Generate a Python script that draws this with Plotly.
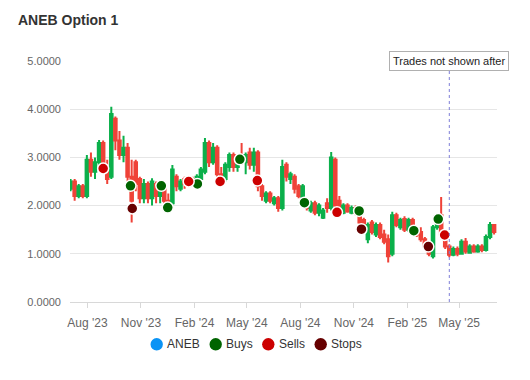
import pandas as pd
import plotly.graph_objects as go

# ---------------- data ----------------
week_start = "2023-07-03"
opens = [2.35, 2.50, 2.20, 2.40, 2.20, 2.95, 2.70, 2.90, 3.30, 2.80,
         2.60, 3.80, 3.35, 3.05, 3.20, 2.60, 2.90, 2.55, 2.15, 2.45,
         2.15, 2.45, 2.20, 2.35, 2.10, 2.05, 2.60, 2.35, 2.55, 2.45,
         2.55, 2.45, 2.55, 2.70, 3.30, 2.90, 3.20, 2.65, 2.55, 2.80,
         3.05, 2.80, 3.05, 2.90, 3.10, 2.85, 3.10, 2.40, 2.10, 2.25,
         2.05, 2.15, 1.95, 2.85, 2.55, 2.60, 2.40, 2.15, 2.10, 1.90,
         2.05, 1.85, 1.75, 2.05, 1.95, 2.95, 2.10, 1.85, 2.00, 1.85,
         1.95, 1.85, 1.70, 1.30, 1.65, 1.40, 1.60, 1.40, 1.30, 1.00,
         1.80, 1.55, 1.72, 1.50, 1.70, 1.50, 1.45, 1.30, 1.20, 0.95,
         1.55, 1.80, 1.45, 1.15, 0.98, 1.10, 1.00, 1.25, 1.02, 1.15,
         1.05, 1.15, 1.08, 1.35, 1.60]
highs = [2.55, 2.55, 2.45, 2.45, 3.05, 3.10, 3.00, 3.36, 3.35, 2.95,
         4.05, 3.85, 3.55, 3.45, 3.30, 2.95, 2.95, 2.60, 2.55, 2.50,
         2.57, 2.50, 2.45, 2.40, 2.25, 2.84, 2.65, 2.55, 2.60, 2.60,
         2.60, 2.65, 2.80, 3.40, 3.35, 3.30, 3.25, 2.80, 2.90, 3.10,
         3.10, 3.05, 3.30, 3.10, 3.20, 3.20, 3.15, 2.45, 2.30, 2.30,
         2.20, 2.20, 2.95, 2.90, 2.70, 2.65, 2.45, 2.45, 2.15, 2.10,
         2.10, 2.05, 1.95, 2.15, 3.11, 3.00, 2.20, 2.05, 2.05, 2.00,
         2.00, 1.95, 1.75, 1.65, 1.70, 1.65, 1.65, 1.50, 1.40, 1.87,
         1.85, 1.75, 1.78, 1.75, 1.75, 1.55, 1.55, 1.35, 1.25, 1.60,
         1.80, 2.18, 1.50, 1.20, 1.15, 1.15, 1.30, 1.33, 1.20, 1.20,
         1.20, 1.20, 1.40, 1.66, 1.62]
lows = [2.30, 2.10, 2.15, 2.15, 2.15, 2.60, 2.55, 2.80, 2.70, 2.45,
        2.55, 3.15, 2.95, 2.90, 2.50, 1.65, 2.30, 2.05, 2.05, 2.05,
        2.00, 2.05, 2.05, 2.00, 1.98, 2.00, 2.30, 2.30, 2.35, 2.40,
        2.40, 2.40, 2.50, 2.65, 2.80, 2.85, 2.55, 2.45, 2.50, 2.70,
        2.70, 2.70, 2.85, 2.65, 2.75, 2.70, 2.30, 2.10, 2.05, 2.05,
        2.00, 1.87, 1.90, 2.50, 2.45, 2.25, 2.15, 2.10, 1.90, 1.85,
        1.80, 1.78, 1.72, 1.85, 1.90, 1.90, 1.85, 1.82, 1.85, 1.82,
        1.80, 1.60, 1.50, 1.22, 1.40, 1.35, 1.30, 1.20, 0.82, 0.95,
        1.55, 1.50, 1.45, 1.45, 1.45, 1.35, 1.25, 1.12, 0.95, 0.90,
        1.50, 1.30, 1.10, 0.93, 0.95, 0.95, 0.98, 1.00, 1.00, 1.02,
        1.02, 1.03, 1.05, 1.30, 1.40]
closes = [2.50, 2.20, 2.40, 2.20, 2.95, 2.70, 2.90, 3.30, 2.80, 2.55,
          3.90, 3.35, 3.05, 3.20, 2.60, 2.10, 2.45, 2.15, 2.45, 2.15,
          2.50, 2.20, 2.35, 2.10, 2.05, 2.75, 2.40, 2.50, 2.45, 2.55,
          2.45, 2.60, 2.75, 3.30, 2.90, 3.20, 2.65, 2.55, 2.85, 3.05,
          2.80, 3.00, 2.95, 3.05, 2.85, 3.10, 2.40, 2.20, 2.25, 2.10,
          2.15, 1.95, 2.80, 2.60, 2.65, 2.35, 2.20, 2.40, 1.95, 2.05,
          1.85, 2.00, 1.90, 1.95, 3.00, 2.00, 1.90, 2.00, 1.88, 1.95,
          1.85, 1.65, 1.55, 1.60, 1.45, 1.60, 1.35, 1.25, 0.95, 1.80,
          1.60, 1.70, 1.50, 1.70, 1.50, 1.40, 1.30, 1.15, 1.00, 1.55,
          1.75, 1.40, 1.15, 0.98, 1.10, 1.00, 1.25, 1.05, 1.15, 1.05,
          1.15, 1.08, 1.35, 1.60, 1.45]

buy_dates = ["2023-10-14", "2023-12-06", "2023-12-17", "2024-02-06", "2024-04-19",
             "2024-08-08", "2024-11-10", "2025-02-12", "2025-03-26"]
buy_prices = [2.41, 2.41, 1.96, 2.45, 2.96, 2.06, 1.89, 1.48, 1.72]
sell_dates = ["2023-08-28", "2024-01-22", "2024-03-16", "2024-05-19", "2024-10-03", "2025-04-06"]
sell_prices = [2.77, 2.50, 2.50, 2.52, 1.86, 1.39]
stop_dates = ["2023-10-17", "2024-11-14", "2025-03-09"]
stop_prices = [1.94, 1.51, 1.15]

cutoff_date = "2025-04-14"
tick_dates = ["2023-08-01", "2023-11-01", "2024-02-01", "2024-05-01",
              "2024-08-01", "2024-11-01", "2025-02-01", "2025-05-01"]
tick_labels = ["Aug '23", "Nov '23", "Feb '24", "May '24",
               "Aug '24", "Nov '24", "Feb '25", "May '25"]
y_ticks = [0, 1, 2, 3, 4, 5]

legend_names = ["ANEB", "Buys", "Sells", "Stops"]
legend_colors = ["#0a93f5", "#006400", "#cc0000", "#660000"]

# ---------------- figure ----------------
dates = pd.date_range(week_start, periods=len(closes), freq="7D")
UP, DOWN = "#0bb04b", "#ef4238"
FONT = "Liberation Sans, Arial, sans-serif"

fig = go.Figure()
fig.add_trace(go.Candlestick(
    x=dates, open=opens, high=highs, low=lows, close=closes, name="ANEB",
    increasing=dict(line=dict(color=UP, width=2), fillcolor=UP),
    decreasing=dict(line=dict(color=DOWN, width=2), fillcolor=DOWN),
    whiskerwidth=0, showlegend=False, hoverinfo="x+y"))

for nm, xs, ys, col in [("Buys", buy_dates, buy_prices, legend_colors[1]),
                        ("Sells", sell_dates, sell_prices, legend_colors[2]),
                        ("Stops", stop_dates, stop_prices, legend_colors[3])]:
    fig.add_trace(go.Scatter(x=xs, y=ys, mode="markers", name=nm, showlegend=False,
                             marker=dict(color=col, size=11, line=dict(color="white", width=1.5))))

fig.add_shape(type="line", x0=cutoff_date, x1=cutoff_date, y0=0, y1=4.81,
              xref="x", yref="y", line=dict(color="#7f7fd8", width=1, dash="dot"))
fig.add_annotation(text="Trades not shown after", xref="paper", yref="paper",
                   x=(389 - 70) / 427, y=1.002, xanchor="left", yanchor="middle",
                   showarrow=False, font=dict(size=11, color="#222", family=FONT),
                   bgcolor="white", bordercolor="#b0b0b0", borderwidth=1, borderpad=3)

# manual legend
PW, PH = 427.0, 241.0
leg_cx = [156.7, 215.7, 268.3, 320.7]
leg_tx = [165.0, 224.0, 276.5, 329.0]
leg_y = 344.3
for name, col, cx, tx in zip(legend_names, legend_colors, leg_cx, leg_tx):
    fx = (cx - 70) / PW
    fy = (302 - leg_y) / PH
    rx, ry = 6.2 / PW, 6.2 / PH
    fig.add_shape(type="circle", xref="paper", yref="paper",
                  x0=fx - rx, x1=fx + rx, y0=fy - ry, y1=fy + ry,
                  fillcolor=col, line=dict(width=0))
    fig.add_annotation(text=name, xref="paper", yref="paper",
                       x=(tx - 70) / PW, y=fy, xanchor="left", yanchor="middle",
                       showarrow=False, font=dict(size=12, color="#333", family=FONT))

fig.update_layout(
    width=530, height=380,
    margin=dict(l=70, r=33, t=61, b=78),
    paper_bgcolor="white", plot_bgcolor="white",
    font=dict(family=FONT, color="#666"),
    showlegend=False,
    boxgap=0.1,
    title=dict(text="<b>ANEB Option 1</b>", x=18 / 530, xanchor="left", xref="container",
               y=1 - 20 / 380, yanchor="middle", yref="container",
               font=dict(size=14, color="#333", family=FONT)),
    xaxis=dict(range=["2023-07-02", "2025-07-05"], tickvals=tick_dates, ticktext=tick_labels,
               showgrid=False, zeroline=False, showline=True, linecolor="#d8d8d8",
               ticks="outside", ticklen=5, tickcolor="#d8d8d8",
               tickfont=dict(size=12, color="#666"), ticklabelstandoff=5,
               rangeslider=dict(visible=False)),
    yaxis=dict(range=[0, 5], tickvals=y_ticks, tickformat=".4f",
               showgrid=True, gridcolor="#e6e6e6", zeroline=False,
               tickfont=dict(size=11, color="#666"), ticklabelstandoff=8),
)

fig.write_html("out.html", config={"displayModeBar": False},
               post_script="document.body.style.margin='0';")
